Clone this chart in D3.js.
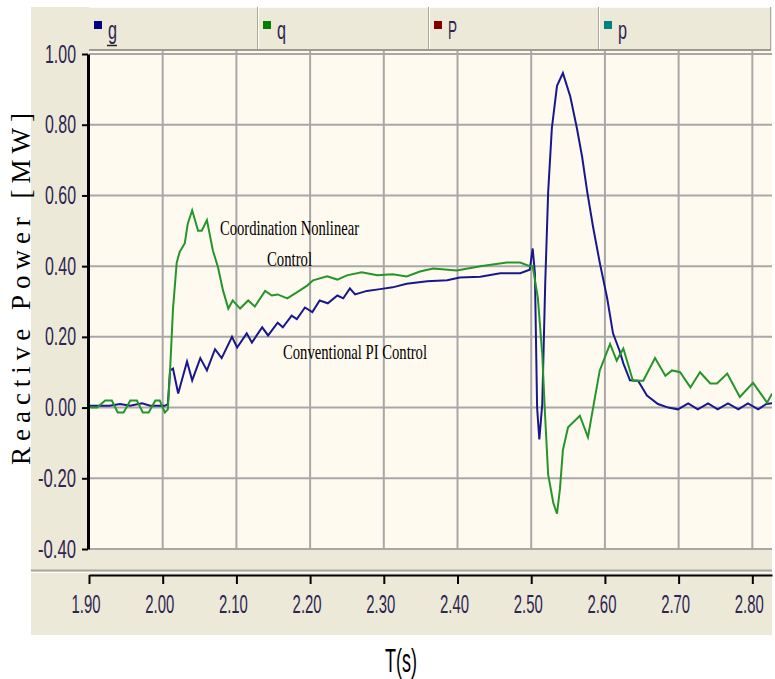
<!DOCTYPE html>
<html><head><meta charset="utf-8">
<script src="https://cdn.jsdelivr.net/npm/d3@7"></script>
<style>body{margin:0;background:#fff;} svg{display:block;}</style>
</head><body>
<svg id="chart" width="775" height="679"></svg>
<script>
// ---------- data ----------
const xTicks = [1.90, 2.00, 2.10, 2.20, 2.30, 2.40, 2.50, 2.60, 2.70, 2.80];
const xTickLabels = ["1.90","2.00","2.10","2.20","2.30","2.40","2.50","2.60","2.70","2.80"];
const yTicks = [1.00, 0.80, 0.60, 0.40, 0.20, 0.00, -0.20, -0.40];
const yTickLabels = ["1.00","0.80","0.60","0.40","0.20","0.00","-0.20","-0.40"];
const legendLabels = ["g", "q", "P", "p"];

// Conventional PI Control (blue, "g")
const piTime = [1.900,1.928,1.942,1.956,1.972,1.983,2.003,2.007,2.010,2.014,2.021,2.033,2.040,2.051,2.060,2.071,2.080,2.094,2.101,2.114,2.121,2.135,2.143,2.156,2.163,2.175,2.182,2.193,2.203,2.213,2.224,2.237,2.245,2.254,2.261,2.277,2.295,2.312,2.331,2.359,2.386,2.403,2.431,2.458,2.485,2.498,2.502,2.505,2.508,2.511,2.515,2.519,2.523,2.528,2.535,2.543,2.553,2.562,2.569,2.576,2.584,2.593,2.603,2.611,2.620,2.625,2.634,2.645,2.657,2.672,2.686,2.699,2.713,2.726,2.740,2.753,2.767,2.781,2.794,2.808,2.819,2.827];
const piValue = [0.005,0.005,0.010,0.005,0.012,0.005,0.005,0.010,0.105,0.110,0.040,0.130,0.077,0.140,0.105,0.165,0.140,0.200,0.170,0.210,0.184,0.227,0.204,0.240,0.227,0.260,0.250,0.283,0.270,0.303,0.295,0.317,0.309,0.337,0.320,0.330,0.335,0.340,0.350,0.357,0.360,0.368,0.370,0.380,0.380,0.390,0.450,0.380,0.000,-0.090,0.010,0.350,0.610,0.790,0.910,0.946,0.880,0.790,0.710,0.610,0.510,0.410,0.310,0.210,0.160,0.125,0.077,0.076,0.034,0.010,0.000,-0.005,0.012,-0.005,0.012,-0.005,0.012,-0.005,0.012,-0.005,0.010,0.012];

// Coordination Nonlinear Control (green, "q")
const nlTime = [1.900,1.911,1.922,1.931,1.939,1.947,1.956,1.965,1.973,1.981,1.990,1.996,2.003,2.007,2.010,2.014,2.019,2.023,2.030,2.034,2.040,2.048,2.053,2.060,2.068,2.075,2.082,2.089,2.095,2.105,2.116,2.125,2.139,2.148,2.156,2.169,2.182,2.196,2.204,2.223,2.237,2.250,2.270,2.291,2.312,2.331,2.349,2.367,2.399,2.431,2.467,2.485,2.498,2.502,2.509,2.515,2.519,2.523,2.530,2.535,2.539,2.543,2.550,2.566,2.577,2.584,2.593,2.607,2.616,2.625,2.638,2.652,2.668,2.682,2.691,2.702,2.716,2.729,2.743,2.752,2.766,2.783,2.801,2.820,2.827];
const nlValue = [0.000,0.000,0.020,0.020,-0.014,-0.014,0.020,0.020,-0.014,-0.014,0.020,0.020,-0.014,-0.005,0.105,0.280,0.410,0.440,0.465,0.520,0.558,0.500,0.500,0.530,0.445,0.397,0.330,0.280,0.303,0.280,0.303,0.286,0.330,0.317,0.320,0.309,0.326,0.345,0.360,0.371,0.362,0.374,0.383,0.374,0.377,0.371,0.385,0.393,0.388,0.400,0.410,0.410,0.400,0.400,0.310,0.150,-0.030,-0.190,-0.270,-0.300,-0.230,-0.120,-0.056,-0.023,-0.084,0.000,0.105,0.180,0.133,0.167,0.076,0.076,0.140,0.090,0.105,0.100,0.057,0.100,0.068,0.068,0.096,0.030,0.070,0.014,0.040];

// ---------- drawing ----------
(function () {
const svg = d3.select("#chart");
const beige = "#ece9d8", cream = "#fffaef", gridCol = "#a8a8a8", tickText = "#2e2552";
const pL = 89, pR = 772, pT = 51, pB = 549;

const x = d3.scaleLinear().domain([1.9, 2.8267]).range([pL, pR]);
const y = d3.scaleLinear().domain([-0.4, 1.0]).range([549, 54]);

svg.append("rect").attr("x", 31).attr("y", 7).attr("width", pR - 31).attr("height", 628).attr("fill", beige);

// legend strip
const legendCells = [89, 258, 429, 599, 771];
svg.append("line").attr("x1", 89).attr("x2", 771).attr("y1", 7.5).attr("y2", 7.5).attr("stroke", "#fbfaf5").attr("stroke-width", 1);
legendCells.slice(1, 4).forEach(cx => {
  svg.append("line").attr("x1", cx - 0.5).attr("x2", cx - 0.5).attr("y1", 7).attr("y2", 50).attr("stroke", "#aca899");
  svg.append("line").attr("x1", cx + 0.5).attr("x2", cx + 0.5).attr("y1", 7).attr("y2", 50).attr("stroke", "#ffffff");
});
svg.append("line").attr("x1", 770.5).attr("x2", 770.5).attr("y1", 7).attr("y2", 50).attr("stroke", "#aca899");
const legendColors = ["#000080", "#008000", "#800000", "#008080"];
legendLabels.forEach((lab, i) => {
  const cx = legendCells[i];
  svg.append("rect").attr("x", cx + 5).attr("y", 21).attr("width", 8).attr("height", 8).attr("fill", legendColors[i]);
  svg.append("text").attr("x", cx + 19).attr("y", 39).text(lab)
    .attr("font-family", "Liberation Sans, Arial, sans-serif").attr("font-size", 25)
    .attr("fill", tickText).attr("textLength", 9).attr("lengthAdjust", "spacingAndGlyphs");
});
svg.append("line").attr("x1", 107).attr("x2", 117).attr("y1", 45.5).attr("y2", 45.5).attr("stroke", "#222").attr("stroke-width", 1.5);

// plot area
svg.append("rect").attr("x", pL).attr("y", pT).attr("width", pR - pL).attr("height", pB - pT).attr("fill", cream);
svg.append("line").attr("x1", 89).attr("x2", 771).attr("y1", 50).attr("y2", 50).attr("stroke", "#9d9b8f").attr("stroke-width", 2);

// grid
const grid = svg.append("g").attr("stroke", gridCol).attr("stroke-width", 2);
yTicks.forEach(v => grid.append("line").attr("x1", pL).attr("x2", pR).attr("y1", y(v)).attr("y2", y(v)));
xTicks.slice(1).forEach(t => grid.append("line").attr("x1", x(t)).attr("x2", x(t)).attr("y1", pT).attr("y2", pB));

// lines
svg.append("clipPath").attr("id", "clip").append("rect")
  .attr("x", pL).attr("y", pT).attr("width", pR - pL).attr("height", pB - pT);
const line = d3.line().x(d => x(d[0])).y(d => y(d[1]));
svg.append("path").datum(d3.zip(piTime, piValue)).attr("d", line)
  .attr("fill", "none").attr("stroke", "#18188e").attr("stroke-width", 2).attr("clip-path", "url(#clip)");
svg.append("path").datum(d3.zip(nlTime, nlValue)).attr("d", line)
  .attr("fill", "none").attr("stroke", "#25952a").attr("stroke-width", 2).attr("clip-path", "url(#clip)");

// y axis
const yAxis = svg.append("g").attr("transform", "translate(88,0)")
  .call(d3.axisLeft(y).tickValues(yTicks).tickFormat((d, i) => yTickLabels[i]).tickSize(6).tickPadding(6).tickSizeOuter(0));
yAxis.select(".domain").attr("stroke", "#000").attr("stroke-width", 3);
yAxis.selectAll(".tick line").attr("stroke", "#000").attr("stroke-width", 2);
yAxis.selectAll(".tick text").attr("font-family", "Liberation Sans, Arial, sans-serif").attr("font-size", 25)
  .attr("fill", tickText).attr("textLength", d => (d < 0 ? 38 : 31)).attr("lengthAdjust", "spacingAndGlyphs");

// separator above x-axis band
svg.append("line").attr("x1", 31).attr("x2", pR).attr("y1", 570.5).attr("y2", 570.5).attr("stroke", "#a9a799").attr("stroke-width", 2);
svg.append("line").attr("x1", 31).attr("x2", pR).attr("y1", 572.5).attr("y2", 572.5).attr("stroke", "#ffffff").attr("stroke-width", 1);

// x axis
const sx = 0.573;
const xAxis = svg.append("g").attr("transform", "translate(0,575)")
  .call(d3.axisBottom(x).tickValues(xTicks).tickFormat((d, i) => xTickLabels[i]).tickSize(9).tickSizeOuter(0));
xAxis.select(".domain").attr("stroke", "#000").attr("stroke-width", 2);
xAxis.selectAll(".tick line").attr("stroke", "#000").attr("stroke-width", 2);
xAxis.selectAll(".tick text").attr("y", 38).attr("dy", 0).attr("x", -3.5 / sx)
  .attr("transform", `scale(${sx},1)`)
  .attr("font-family", "Liberation Sans, Arial, sans-serif").attr("font-size", 26)
  .attr("fill", tickText);

// titles
svg.append("text").attr("transform", "translate(30,289) rotate(-90)").attr("text-anchor", "middle")
  .attr("font-family", "Liberation Serif, Times New Roman, serif").attr("font-size", 27).attr("fill", "#000")
  .attr("textLength", 352).attr("lengthAdjust", "spacing").text("Reactive Power [MW]");
svg.append("text").attr("x", 385).attr("y", 672)
  .attr("font-family", "Liberation Sans, Arial, sans-serif").attr("font-size", 34).attr("fill", "#000")
  .attr("textLength", 32).attr("lengthAdjust", "spacingAndGlyphs").text("T(s)");

// annotations
const serif = "Liberation Serif, Times New Roman, serif";
[["Coordination Nonlinear", 220, 235, 139], ["Control", 267, 266, 45], ["Conventional PI Control", 283, 359, 144]]
  .forEach(([t, ax, ay, w]) => svg.append("text").attr("x", ax).attr("y", ay).attr("font-family", serif)
    .attr("font-size", 22).attr("fill", "#000").attr("textLength", w).attr("lengthAdjust", "spacingAndGlyphs").text(t));
})();
</script>
</body></html>
